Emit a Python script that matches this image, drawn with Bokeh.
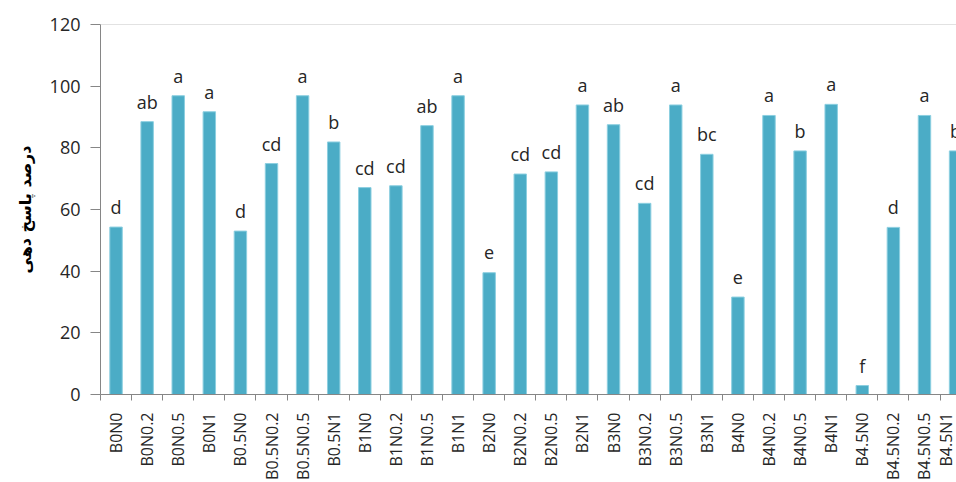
from bokeh.plotting import figure
from bokeh.models import ColumnDataSource, Range1d, FixedTicker, Span
from bokeh.core.properties import value
from bokeh.embed import file_html
from bokeh.resources import INLINE
import math

categories = ["B0N0", "B0N0.2", "B0N0.5", "B0N1",
              "B0.5N0", "B0.5N0.2", "B0.5N0.5", "B0.5N1",
              "B1N0", "B1N0.2", "B1N0.5", "B1N1",
              "B2N0", "B2N0.2", "B2N0.5", "B2N1",
              "B3N0", "B3N0.2", "B3N0.5", "B3N1",
              "B4N0", "B4N0.2", "B4N0.5", "B4N1",
              "B4.5N0", "B4.5N0.2", "B4.5N0.5", "B4.5N1"]
response = [54.3, 88.5, 96.9, 91.7,
            53.0, 74.9, 96.9, 81.9,
            67.1, 67.7, 87.2, 96.9,
            39.5, 71.5, 72.2, 93.9,
            87.5, 62.0, 93.9, 77.9,
            31.6, 90.5, 79.0, 94.1,
            2.9, 54.2, 90.5, 79.0]
letters = ["d", "ab", "a", "a",
           "d", "cd", "a", "b",
           "cd", "cd", "ab", "a",
           "e", "cd", "cd", "a",
           "ab", "cd", "a", "bc",
           "e", "a", "b", "a",
           "f", "d", "a", "b"]
y_ticks = [0, 20, 40, 60, 80, 100, 120]
y_title = "درصد پاسخ دهی"

xs = [i + 0.5 for i in range(len(categories))]
src = ColumnDataSource(dict(x=xs, top=response, grp=letters))

p = figure(width=956, height=482, x_range=Range1d(0, 27.53), y_range=Range1d(0, 120),
           output_backend="svg", toolbar_location=None,
           min_border_left=100, min_border_right=0, min_border_top=24)
p.outline_line_color = None
p.xgrid.visible = False
p.ygrid.visible = False

p.add_layout(Span(location=120, dimension="width", line_color="#c6c6c6", line_width=1))

p.vbar(x="x", top="top", width=0.4, source=src, fill_color="#4BACC6", line_color="#8ccfe0", line_width=1)
p.text(x="x", y="top", text="grp", source=src, text_align="center", text_baseline="alphabetic",
       y_offset=-20, text_font=value("Open Sans"), text_font_size="18px", text_color="#262626")

grey = "#868686"
xa = p.xaxis[0]
xa.ticker = FixedTicker(ticks=xs, minor_ticks=list(range(len(categories) + 1)))
xa.major_label_overrides = {x: c for x, c in zip(xs, categories)}
xa.major_label_orientation = math.pi / 2
xa.major_tick_out = 0
xa.major_tick_in = 0
xa.minor_tick_out = 6
xa.minor_tick_in = 0
xa.minor_tick_line_color = grey
xa.axis_line_color = grey
xa.major_label_standoff = 12
xa.major_label_text_font = "Open Sans"
xa.major_label_text_font_size = "16px"
xa.major_label_text_color = "#262626"

ya = p.yaxis[0]
ya.ticker = FixedTicker(ticks=y_ticks)
ya.minor_tick_line_color = None
ya.major_tick_out = 10
ya.major_tick_in = 0
ya.major_tick_line_color = grey
ya.axis_line_color = grey
ya.major_label_standoff = 10
ya.major_label_text_font = "Open Sans"
ya.major_label_text_font_size = "18px"
ya.major_label_text_color = "#262626"
ya.axis_label = y_title
ya.axis_label_text_font = "DejaVu Sans"
ya.axis_label_text_font_style = "bold"
ya.axis_label_text_font_size = "16px"
ya.axis_label_text_color = "#000000"
ya.axis_label_standoff = 12

open("out.html", "w").write(file_html(p, INLINE))
